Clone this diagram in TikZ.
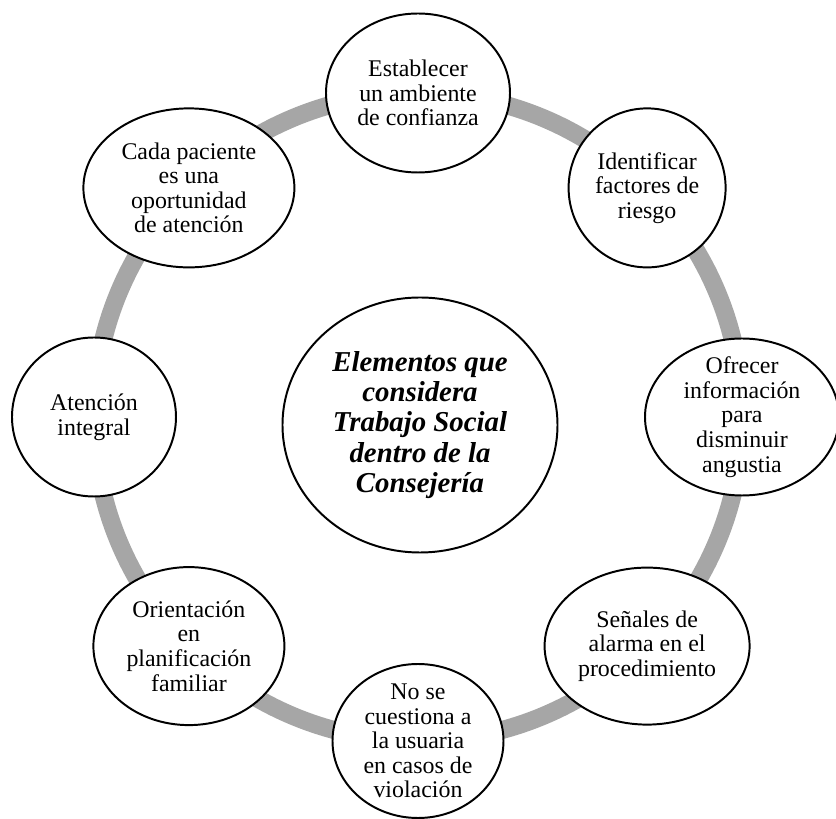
\documentclass[tikz,border=0pt]{standalone}
\usepackage{fontspec}
\setmainfont{Liberation Serif}
\usetikzlibrary{shapes.geometric, positioning}
\definecolor{ringgray}{RGB}{166,166,166}
\tikzset{
    elem/.style = {ellipse, draw, line width=1.4pt, fill=white, inner sep=-0.2cm, align=center, font=\fontsize{17}{17.5}\selectfont}, % the small ellipses sitting on the ring
    hub/.style = {ellipse, draw, line width=1.4pt, fill=white, inner sep=0pt, align=center, minimum width=6.875cm, minimum height=6.375cm, font=\fontsize{20.5}{21.5}\selectfont\bfseries\itshape}, % the big one in the middle
    ring/.style = {draw=ringgray, line width=0.45cm}
}

\begin{document}
\begin{tikzpicture}
\useasboundingbox (-10.45,-10.05) rectangle (10.45,10.425);
\coordinate (c) at (0,0);
\draw [ring] (c) circle (8.1cm);
\node [hub] (hub) at (0.05,-0.2) {Elementos que\\considera\\Trabajo Social\\dentro de la\\Consejería};
\node [elem, minimum width=4.6cm, minimum height=3.975cm] (confianza) at (90:8.1cm) {Establecer\\un ambiente\\de confianza};
\node [elem, minimum width=3.925cm, minimum height=3.975cm] (riesgo) at (45:8.1cm) {Identificar\\factores de\\riesgo};
\node [elem, minimum width=4.85cm, minimum height=3.925cm] (angustia) at (0:8.1cm) {Ofrecer\\información\\para\\disminuir\\angustia};
\node [elem, minimum width=5.125cm, minimum height=3.925cm] (alarma) at (-45:8.1cm) {Señales de\\alarma en el\\procedimiento};
\node [elem, minimum width=4.275cm, minimum height=3.85cm] (violacion) at (-90:8.1cm) {No se\\cuestiona a\\la usuaria\\en casos de\\violación};
\node [elem, minimum width=4.775cm, minimum height=3.95cm] (planif) at (-135:8.1cm) {Orientación\\en\\planificación\\familiar};
\node [elem, minimum width=4.1cm, minimum height=3.975cm] (integral) at (180:8.1cm) {Atención\\integral};
\node [elem, minimum width=5.275cm, minimum height=3.975cm] (paciente) at (135:8.1cm) {Cada paciente\\es una\\oportunidad\\de atención};
\end{tikzpicture}
\end{document}
